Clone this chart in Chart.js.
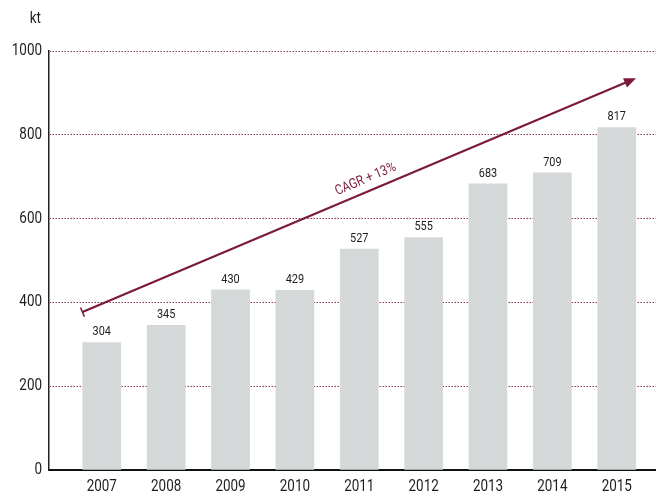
<!DOCTYPE html>
<html>
<head>
<meta charset="utf-8">
<script src="https://cdn.jsdelivr.net/npm/chart.js@4"></script>
<style>
  html, body { margin: 0; padding: 0; background: #fff; }
  #wrap { width: 656px; height: 494px; }
</style>
</head>
<body>
<div id="wrap"><canvas id="vol-chart" width="656" height="494"></canvas></div>
<script>
const years = [2007, 2008, 2009, 2010, 2011, 2012, 2013, 2014, 2015];
const volumes = [304, 345, 430, 429, 527, 555, 683, 709, 817];
const yTicks = [0, 200, 400, 600, 800, 1000];

// trend arrow, in data units (year, kt)
const trendFrom = { x: 2006.7, y: 377 };
const trendTo = { x: 2015.3, y: 935 };
const trendText = 'CAGR + 13%';

const maroon = '#7b1a3e';
const ink = '#1e1e1e';
const SQUEEZE = 0.84; // narrow the glyphs, no condensed face is installed

// text squeezed horizontally around its anchor point
function narrowText(ctx, str, x, y, size, align, baseline) {
  ctx.save();
  ctx.translate(x, y);
  ctx.scale(SQUEEZE, 1);
  ctx.font = size + 'px Roboto, sans-serif';
  ctx.textAlign = align;
  ctx.textBaseline = baseline;
  ctx.fillText(str, 0, 0);
  ctx.restore();
}

const overlay = {
  id: 'overlay',
  afterDatasetsDraw(chart) {
    const ctx = chart.ctx;
    const xs = chart.scales.x, ys = chart.scales.y;
    ctx.save();
    ctx.fillStyle = ink;

    // axis labels
    xs.ticks.forEach(t => {
      narrowText(ctx, String(t.value), xs.getPixelForValue(t.value), 487, 16, 'center', 'middle');
    });
    ys.ticks.forEach(t => {
      narrowText(ctx, String(t.value), 42, ys.getPixelForValue(t.value), 16, 'right', 'middle');
    });
    narrowText(ctx, 'kt', 41, 19, 16, 'right', 'middle');

    // value labels above the bars
    chart.getDatasetMeta(0).data.forEach((bar, i) => {
      narrowText(ctx, String(volumes[i]), bar.x, bar.y - 4, 13, 'center', 'bottom');
    });

    // growth arrow
    const x1 = xs.getPixelForValue(trendFrom.x), y1 = ys.getPixelForValue(trendFrom.y);
    const x2 = xs.getPixelForValue(trendTo.x), y2 = ys.getPixelForValue(trendTo.y);
    const ang = Math.atan2(y2 - y1, x2 - x1);
    const c = Math.cos(ang), s = Math.sin(ang);
    ctx.strokeStyle = maroon;
    ctx.fillStyle = maroon;
    ctx.lineWidth = 2.2;
    ctx.beginPath();
    ctx.moveTo(x1, y1);
    ctx.lineTo(x2 - 6 * c, y2 - 6 * s);
    ctx.stroke();
    // end cap at the start
    ctx.lineWidth = 1.5;
    ctx.beginPath();
    ctx.moveTo(x1 + 5 * s, y1 - 5 * c);
    ctx.lineTo(x1 - 5 * s, y1 + 5 * c);
    ctx.stroke();
    // head
    ctx.beginPath();
    ctx.moveTo(x2, y2);
    ctx.lineTo(x2 - 12 * c + 5 * s, y2 - 12 * s - 5 * c);
    ctx.lineTo(x2 - 12 * c - 5 * s, y2 - 12 * s + 5 * c);
    ctx.closePath();
    ctx.fill();

    // label along the arrow
    ctx.translate(x1 + (x2 - x1) * 0.52, y1 + (y2 - y1) * 0.52);
    ctx.rotate(ang);
    narrowText(ctx, trendText, 0, -5, 14, 'center', 'bottom');
    ctx.restore();
  }
};

new Chart(document.getElementById('vol-chart').getContext('2d'), {
  type: 'bar',
  data: {
    datasets: [{
      data: years.map((y, i) => ({ x: y, y: volumes[i] })),
      backgroundColor: '#d5d8d9',
      borderWidth: 0,
      barThickness: 38
    }]
  },
  options: {
    responsive: false,
    animation: false,
    layout: { padding: { top: 51, right: 0, bottom: 0, left: 0 } },
    plugins: { legend: { display: false }, tooltip: { enabled: false } },
    scales: {
      x: {
        type: 'linear',
        offset: false,
        min: 2006.18,
        max: 2015.61,
        afterBuildTicks: s => { s.ticks = years.map(v => ({ value: v })); },
        afterFit: s => { s.height = 24; },
        grid: { display: false },
        border: { display: true, color: '#111', width: 2 },
        ticks: { display: false }
      },
      y: {
        min: 0,
        max: 1000,
        afterBuildTicks: s => { s.ticks = yTicks.map(v => ({ value: v })); },
        afterFit: s => { s.width = 49; },
        grid: {
          drawTicks: false,
          color: c => c.tick.value === 0 ? 'rgba(0,0,0,0)' : '#8c3556',
          lineWidth: 1
        },
        border: { display: true, color: '#222', width: 1.5, dash: [1.5, 1.5] },
        ticks: { display: false }
      }
    }
  },
  plugins: [overlay]
});
</script>
</body>
</html>
